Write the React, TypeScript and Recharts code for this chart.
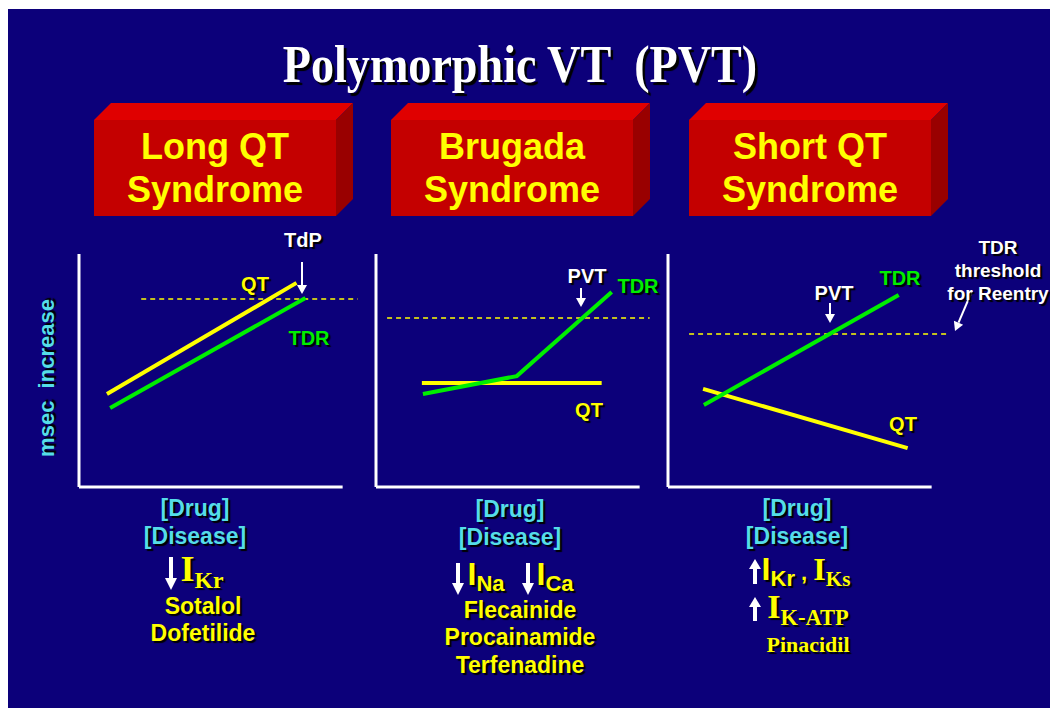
import React from "react";
import { LineChart, Line, XAxis, YAxis, ReferenceLine } from "recharts";

const NAVY = "#0c007a";
const YELLOW = "#ffff00";
const GREEN = "#00ee00";
const CYAN = "#55dde8";
const SHADOW = "2px 2px 1px #000";

const syndromes = [
  ["Long QT", "Syndrome"],
  ["Brugada", "Syndrome"],
  ["Short QT", "Syndrome"],
];

// x: [Drug]/[Disease] (0-100 along the axis), y: msec increase (0-100)
const longQt = [
  { x: 10.6, y: 39.9 },
  { x: 82.5, y: 87.6 },
];
const longTdr = [
  { x: 11.8, y: 33.9 },
  { x: 85.9, y: 81.1 },
];
const longThreshold = [
  { x: 23.6, y: 80.7 },
  { x: 105.7, y: 80.7 },
];

const brugadaQt = [
  { x: 17.4, y: 44.6 },
  { x: 85.6, y: 44.6 },
];
const brugadaTdr = [
  { x: 17.8, y: 39.9 },
  { x: 53.4, y: 47.6 },
  { x: 89.4, y: 83.7 },
];
const brugadaThreshold = [
  { x: 4.2, y: 72.5 },
  { x: 103.8, y: 72.5 },
];

const shortQt = [
  { x: 13.3, y: 42.1 },
  { x: 90.9, y: 16.7 },
];
const shortTdr = [
  { x: 13.6, y: 35.2 },
  { x: 87.5, y: 82.4 },
];
const shortThreshold = [
  { x: 8.0, y: 65.7 },
  { x: 105.7, y: 65.7 },
];

const PAD = 6;
const PLOT_W = 290;
const PLOT_H = 233;

function MiniChart({ qt, tdr, threshold, left }: { qt: any[]; tdr: any[]; threshold: any[]; left: number }) {
  return (
    <div style={{ position: "absolute", left: left - PAD, top: 254 - PAD }}>
      <LineChart
        width={PLOT_W + PAD * 2}
        height={PLOT_H + PAD * 2}
        margin={{ top: PAD, right: PAD, bottom: PAD, left: PAD }}
      >
        <XAxis type="number" dataKey="x" domain={[0, 110]} hide />
        <YAxis type="number" dataKey="y" domain={[0, 100]} hide />
        <ReferenceLine
          segment={[
            { x: 0, y: 0 },
            { x: 0, y: 100 },
          ]}
          stroke="#ffffff"
          strokeWidth={3}
        />
        <ReferenceLine
          segment={[
            { x: 0, y: 0 },
            { x: 100, y: 0 },
          ]}
          stroke="#ffffff"
          strokeWidth={3}
        />
        <Line
          data={threshold}
          dataKey="y"
          stroke={YELLOW}
          strokeWidth={1.5}
          strokeDasharray="5 4"
          dot={false}
          isAnimationActive={false}
        />
        <Line data={qt} dataKey="y" stroke={YELLOW} strokeWidth={4} dot={false} isAnimationActive={false} />
        <Line data={tdr} dataKey="y" stroke={GREEN} strokeWidth={4} dot={false} isAnimationActive={false} />
      </LineChart>
    </div>
  );
}

function Txt({
  x,
  y,
  children,
  color = "#fff",
  size = 18,
  family = "Arial, 'Liberation Sans', sans-serif",
}: {
  x: number;
  y: number;
  children: React.ReactNode;
  color?: string;
  size?: number;
  family?: string;
}) {
  return (
    <div
      style={{
        position: "absolute",
        left: x,
        top: y,
        transform: "translate(-50%, -50%)",
        color,
        fontSize: size,
        fontWeight: "bold",
        fontFamily: family,
        whiteSpace: "nowrap",
        textShadow: SHADOW,
        lineHeight: 0.9,
      }}
    >
      {children}
    </div>
  );
}

function Box({ left, lines }: { left: number; lines: string[] }) {
  const w = 242;
  const h = 96;
  const d = 17;
  return (
    <div style={{ position: "absolute", left, top: 103 }}>
      <svg width={w + d + 2} height={h + d + 2} style={{ position: "absolute", left: 0, top: 0 }}>
        <polygon points={`0,${d} ${d},0 ${w + d},0 ${w},${d}`} fill="#e00000" />
        <polygon points={`${w},${d} ${w + d},0 ${w + d},${h} ${w},${h + d}`} fill="#990000" />
        <rect x={0} y={d} width={w} height={h} fill="#c40000" />
      </svg>
      <div
        style={{
          position: "absolute",
          left: 0,
          top: d,
          width: w,
          height: h,
          display: "flex",
          flexDirection: "column",
          justifyContent: "center",
          alignItems: "center",
          color: YELLOW,
          fontFamily: "Arial, 'Liberation Sans', sans-serif",
          fontWeight: "bold",
          fontSize: 36,
          lineHeight: "43px",
        }}
      >
        {lines.map((l) => (
          <div key={l}>{l}</div>
        ))}
      </div>
    </div>
  );
}

function Arrow({ x1, y1, x2, y2, w = 2, hl = 9, hw = 5 }: { x1: number; y1: number; x2: number; y2: number; w?: number; hl?: number; hw?: number }) {
  const ang = Math.atan2(y2 - y1, x2 - x1);
  const bx = x2 - hl * Math.cos(ang);
  const by = y2 - hl * Math.sin(ang);
  const px = -Math.sin(ang) * hw;
  const py = Math.cos(ang) * hw;
  return (
    <g>
      <line x1={x1} y1={y1} x2={bx} y2={by} stroke="#fff" strokeWidth={w} />
      <polygon points={`${x2},${y2} ${bx + px},${by + py} ${bx - px},${by - py}`} fill="#fff" />
    </g>
  );
}

const serif = "'Times New Roman', 'Liberation Serif', serif";

function Current({ main, sub, size = 32 }: { main: string; sub: string; size?: number }) {
  return (
    <span style={{ fontFamily: serif }}>
      <span style={{ fontSize: size }}>{main}</span>
      <span style={{ fontSize: size * 0.66, verticalAlign: "-0.3em" }}>{sub}</span>
    </span>
  );
}

export default function App() {
  return (
    <div style={{ position: "absolute", left: 0, top: 0, width: 1050, height: 708, overflow: "hidden" }}>
      <div style={{ position: "absolute", left: 8, top: 9, width: 1042, height: 699, background: NAVY }} />

      <Txt x={520} y={65} size={53} family={serif} color="#fff">
        <span style={{ display: "inline-block", transform: "scaleX(0.87)", textShadow: "3px 3px 1px #000" }}>
          Polymorphic VT&nbsp;&nbsp;(PVT)
        </span>
      </Txt>

      <Box left={94} lines={syndromes[0]} />
      <Box left={391} lines={syndromes[1]} />
      <Box left={689} lines={syndromes[2]} />

      <MiniChart qt={longQt} tdr={longTdr} threshold={longThreshold} left={79} />
      <MiniChart qt={brugadaQt} tdr={brugadaTdr} threshold={brugadaThreshold} left={376} />
      <MiniChart qt={shortQt} tdr={shortTdr} threshold={shortThreshold} left={668} />

      <svg width={1050} height={708} style={{ position: "absolute", left: 0, top: 0, pointerEvents: "none" }}>
        <Arrow x1={302} y1={262} x2={302} y2={294} />
        <Arrow x1={581} y1={288} x2={581} y2={307} />
        <Arrow x1={830} y1={303} x2={830} y2={323} />
        <Arrow x1={972} y1={291} x2={955} y2={331} />
        <Arrow x1={171} y1={557} x2={171} y2={590} w={4} hl={12} hw={6} />
        <Arrow x1={458} y1={563} x2={458} y2={595} w={4} hl={12} hw={6} />
        <Arrow x1={528} y1={563} x2={528} y2={595} w={4} hl={12} hw={6} />
        <Arrow x1={755} y1={584} x2={755} y2={559} w={4} hl={10} hw={6} />
        <Arrow x1={755} y1={621} x2={755} y2={597} w={4} hl={10} hw={6} />
      </svg>

      <div
        style={{
          position: "absolute",
          left: 47,
          top: 378,
          transform: "translate(-50%, -50%) rotate(-90deg)",
          color: CYAN,
          fontFamily: "Arial, 'Liberation Sans', sans-serif",
          fontWeight: "bold",
          fontSize: 22,
          whiteSpace: "pre",
          textShadow: SHADOW,
        }}
      >
        msec  increase
      </div>

      <Txt x={255} y={284} color={YELLOW} size={20}>QT</Txt>
      <Txt x={309} y={338} color={GREEN} size={20}>TDR</Txt>
      <Txt x={303} y={240} size={20}>TdP</Txt>

      <Txt x={587} y={276} size={20}>PVT</Txt>
      <Txt x={638} y={286} color={GREEN} size={20}>TDR</Txt>
      <Txt x={589} y={410} color={YELLOW} size={20}>QT</Txt>

      <Txt x={834} y={293} size={20}>PVT</Txt>
      <Txt x={900} y={278} color={GREEN} size={20}>TDR</Txt>
      <Txt x={903} y={424} color={YELLOW} size={20}>QT</Txt>

      <Txt x={998} y={248} size={19}>TDR</Txt>
      <Txt x={998} y={271} size={19}>threshold</Txt>
      <Txt x={998} y={294} size={19}>for Reentry</Txt>

      <Txt x={195} y={508} color={CYAN} size={23}>[Drug]</Txt>
      <Txt x={195} y={536} color={CYAN} size={23}>[Disease]</Txt>
      <Txt x={202} y={572} color={YELLOW}>
        <Current main="I" sub="Kr" size={36} />
      </Txt>
      <Txt x={203} y={606} color={YELLOW} size={23}>Sotalol</Txt>
      <Txt x={203} y={633} color={YELLOW} size={23}>Dofetilide</Txt>

      <Txt x={510} y={509} color={CYAN} size={23}>[Drug]</Txt>
      <Txt x={510} y={537} color={CYAN} size={23}>[Disease]</Txt>
      <Txt x={486} y={577} color={YELLOW} size={32}>
        I<span style={{ fontSize: 22, verticalAlign: "-0.3em" }}>Na</span>
      </Txt>
      <Txt x={555} y={577} color={YELLOW} size={32}>
        I<span style={{ fontSize: 22, verticalAlign: "-0.3em" }}>Ca</span>
      </Txt>
      <Txt x={520} y={610} color={YELLOW} size={23}>Flecainide</Txt>
      <Txt x={520} y={637} color={YELLOW} size={23}>Procainamide</Txt>
      <Txt x={520} y={665} color={YELLOW} size={23}>Terfenadine</Txt>

      <Txt x={797} y={508} color={CYAN} size={23}>[Drug]</Txt>
      <Txt x={797} y={536} color={CYAN} size={23}>[Disease]</Txt>
      <Txt x={806} y={572} color={YELLOW} size={32}>
        I<span style={{ fontSize: 22, verticalAlign: "-0.3em" }}>Kr</span>
        <span style={{ fontSize: 22 }}> , </span>
        <Current main="I" sub="Ks" size={32} />
      </Txt>
      <Txt x={808} y={610} color={YELLOW}>
        <Current main="I" sub="K-ATP" size={34} />
      </Txt>
      <Txt x={808} y={645} color={YELLOW} size={22} family={serif}>Pinacidil</Txt>
    </div>
  );
}
